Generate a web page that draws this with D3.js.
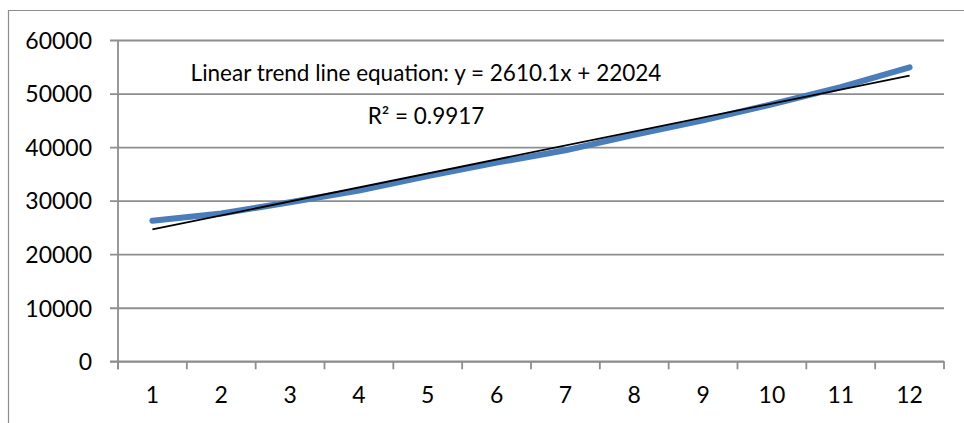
<!DOCTYPE html>
<html>
<head>
<meta charset="utf-8">
<script src="https://cdn.jsdelivr.net/npm/d3@7"></script>
<style>
  html, body { margin: 0; padding: 0; background: #fff; }
  svg { display: block; }
  text { font-family: Lato, "Open Sans", sans-serif; fill: #000; }
</style>
</head>
<body>
<svg id="chart" width="964" height="423"></svg>
<script>
// Monthly values (periods 1..12)
const categories = [1, 2, 3, 4, 5, 6, 7, 8, 9, 10, 11, 12];
const values = [26250, 27600, 29700, 31900, 34600, 37100, 39400, 42300, 45000, 48000, 51200, 54900];
const yTicks = [0, 10000, 20000, 30000, 40000, 50000, 60000];

// Linear trend line fitted to the series
const trendSlope = 2610.1;
const trendIntercept = 22024;
const trendR2 = 0.9917;

const svg = d3.select("#chart");
const W = 964, H = 423;
const plot = { left: 118, right: 944, top: 40, bottom: 361.3 };

svg.append("rect").attr("width", W).attr("height", H).attr("fill", "#fff");

// Chart frame
svg.append("path")
  .attr("d", `M8.5,${H} V10.5 H${W}`)
  .attr("fill", "none").attr("stroke", "#8c8c8c").attr("stroke-width", 1.2);

const x = d3.scaleBand().domain(categories).range([plot.left, plot.right]).padding(0);
const y = d3.scaleLinear().domain([0, 60000]).range([plot.bottom, plot.top]);
const cx = d => x(d) + x.bandwidth() / 2;

const gridColor = "#8e8e8e";

// Horizontal gridlines with outward ticks + value labels
const yAxis = d3.axisLeft(y).tickValues(yTicks).tickFormat(d3.format("d"))
  .tickSize(-(plot.right - plot.left)).tickSizeOuter(0);
const gy = svg.append("g").attr("transform", `translate(${plot.left},0)`).call(yAxis);
gy.select(".domain").remove();
gy.selectAll(".tick line")
  .attr("x1", -8)
  .attr("stroke", gridColor).attr("stroke-width", 1.8);
gy.selectAll(".tick text")
  .attr("x", -26)
  .attr("font-size", 23)
  .attr("dy", "0.36em")
  .style("font-family", "Lato, 'Open Sans', sans-serif");

// Vertical value axis line
svg.append("line")
  .attr("x1", plot.left).attr("x2", plot.left)
  .attr("y1", plot.top).attr("y2", plot.bottom + 8)
  .attr("stroke", gridColor).attr("stroke-width", 1.8);

// Category axis with tick marks at band boundaries
const gx = svg.append("g").attr("transform", `translate(0,${plot.bottom})`);
gx.append("line")
  .attr("x1", plot.left - 8).attr("x2", plot.right)
  .attr("stroke", gridColor).attr("stroke-width", 1.8);
const bounds = categories.map(c => x(c)).concat([plot.right]);
gx.selectAll("line.tk").data(bounds).enter().append("line")
  .attr("class", "tk")
  .attr("x1", d => d).attr("x2", d => d)
  .attr("y1", 0).attr("y2", 8)
  .attr("stroke", gridColor).attr("stroke-width", 1.8);
gx.selectAll("text").data(categories).enter().append("text")
  .attr("x", d => cx(d))
  .attr("y", 42)
  .attr("text-anchor", "middle")
  .attr("font-size", 23)
  .text(d => d);

// Data series
const line = d3.line().x((d, i) => cx(categories[i])).y(d => y(d));
svg.append("path")
  .datum(values)
  .attr("d", line)
  .attr("fill", "none")
  .attr("stroke", "#4a7ebb")
  .attr("stroke-width", 6)
  .attr("stroke-linecap", "round")
  .attr("stroke-linejoin", "round");

// Trend line from the fitted equation
const first = categories[0], last = categories[categories.length - 1];
const trend = [first, last].map(c => ({ c, v: trendSlope * c + trendIntercept }));
svg.append("path")
  .datum(trend)
  .attr("d", d3.line().x(d => cx(d.c)).y(d => y(d.v)))
  .attr("fill", "none")
  .attr("stroke", "#000")
  .attr("stroke-width", 1.8);

// Equation label
const eq = svg.append("text")
  .attr("x", 426).attr("y", 80.5)
  .attr("text-anchor", "middle")
  .attr("font-size", 22.5);
eq.append("tspan").attr("x", 426).text(`Linear trend line equation: y = ${trendSlope}x + ${trendIntercept}`);
eq.append("tspan").attr("x", 426).attr("y", 124).text(`R² = ${trendR2}`);
</script>
</body>
</html>
